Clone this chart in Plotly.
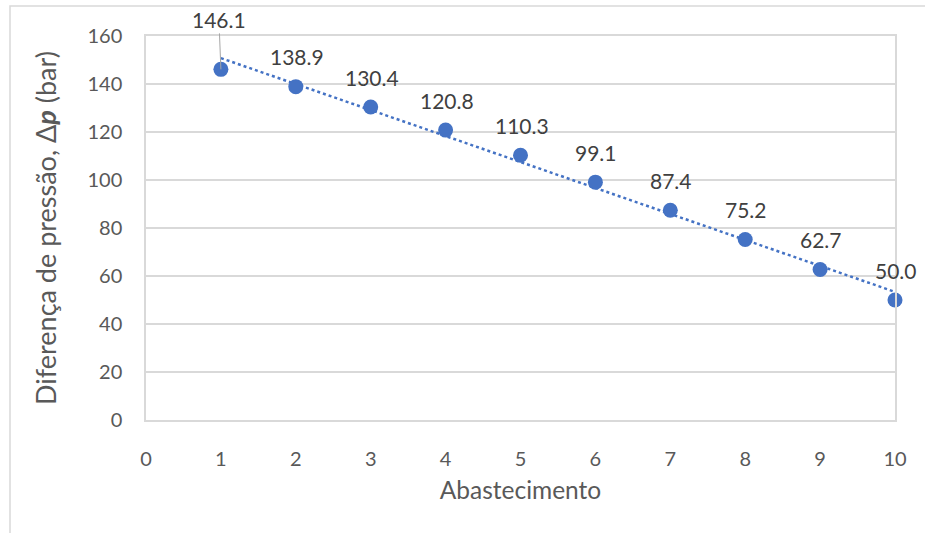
import numpy as np
import plotly.graph_objects as go

abastecimento = [1, 2, 3, 4, 5, 6, 7, 8, 9, 10]
delta_p = [146.1, 138.9, 130.4, 120.8, 110.3, 99.1, 87.4, 75.2, 62.7, 50.0]
labels = ["146.1", "138.9", "130.4", "120.8", "110.3", "99.1", "87.4", "75.2", "62.7", "50.0"]

BLUE = "#4472C4"
GRID = "#D9D9D9"
TXT = "#595959"
FONT = "Lato"

# linear trendline (least squares fit to the data, like Excel)
slope, intercept = np.polyfit(abastecimento, delta_p, 1)
trend_x = [abastecimento[0], abastecimento[-1]]
trend_y = [slope * x + intercept for x in trend_x]

fig = go.Figure()
fig.add_trace(go.Scatter(
    x=trend_x, y=trend_y, mode="lines",
    line=dict(color=BLUE, width=2.5, dash="dot"),
    hoverinfo="skip", showlegend=False,
))
fig.add_trace(go.Scatter(
    x=abastecimento, y=delta_p, mode="markers",
    marker=dict(color=BLUE, size=15),
    showlegend=False, cliponaxis=False,
))

for i, (x, y, t) in enumerate(zip(abastecimento, delta_p, labels)):
    if i == 0:
        fig.add_annotation(
            x=x, y=y, text=t, showarrow=True, ax=-2, ay=-50,
            arrowhead=0, arrowwidth=1, arrowcolor="#A6A6A6", standoff=0,
            font=dict(family=FONT, size=21, color="#404040"),
        )
    else:
        fig.add_annotation(
            x=x, y=y, text=t, showarrow=False, yshift=30, xshift=1,
            font=dict(family=FONT, size=21, color="#404040"),
        )

# outer chart border (left/top visible)
L, R, T, B = 146, 895, 36, 420
W, H = R - L, B - T
fig.add_shape(type="rect", xref="paper", yref="paper",
              x0=(10 - L) / W, x1=(940 - L) / W,
              y0=(B - 545) / H, y1=(B - 6) / H,
              line=dict(color=GRID, width=1.5), layer="below")

fig.update_layout(
    width=925, height=533,
    margin=dict(l=L, r=925 - R, t=T, b=533 - B),
    paper_bgcolor="white", plot_bgcolor="white",
    font=dict(family=FONT, size=20, color=TXT),
)
fig.update_xaxes(
    range=[0, 10], tickvals=list(range(0, 11)), showgrid=False,
    showline=True, linecolor=GRID, linewidth=1.5, mirror=True,
    zeroline=False, ticks="", ticklabelstandoff=20,
    title=dict(text="Abastecimento", font=dict(size=24.5, color=TXT), standoff=13),
)
fig.update_yaxes(
    range=[0, 160], tickvals=list(range(0, 161, 20)),
    showgrid=True, gridcolor=GRID, gridwidth=1.5,
    showline=True, linecolor=GRID, linewidth=1.5, mirror=True,
    zeroline=False, ticks="", ticklabelstandoff=18,
    title=dict(text="Diferença de pressão, Δ<b><i>p</i></b> (bar)",
               font=dict(size=27, color=TXT), standoff=23),
)

fig.write_html("out.html")
